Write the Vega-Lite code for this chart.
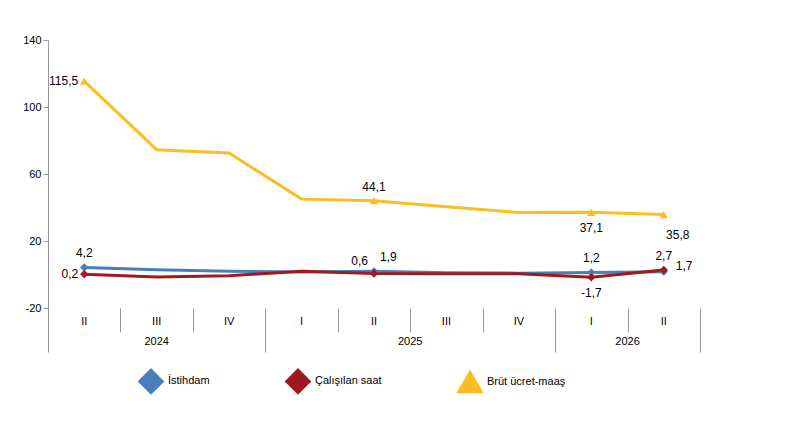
{
"$schema":"https://vega.github.io/schema/vega-lite/v6.json",
"width":652,"height":268,"autosize":"none",
"padding":{"left":48,"top":40,"right":91,"bottom":125},
"background":"white",
"config":{"font":"Liberation Sans","view":{"stroke":null},"axis":{"labelFont":"Liberation Sans","labelFontSize":11,"labelColor":"#000"}},
"datasets":{
"d":[
{"i":0,"series":"İstihdam","value":4.2,"label":"4,2"},
{"i":1,"series":"İstihdam","value":2.8},
{"i":2,"series":"İstihdam","value":2.0},
{"i":3,"series":"İstihdam","value":1.5},
{"i":4,"series":"İstihdam","value":1.9,"label":"1,9"},
{"i":5,"series":"İstihdam","value":1.0},
{"i":6,"series":"İstihdam","value":0.8},
{"i":7,"series":"İstihdam","value":1.2,"label":"1,2"},
{"i":8,"series":"İstihdam","value":1.7,"label":"1,7"},
{"i":0,"series":"Çalışılan saat","value":0.2,"label":"0,2"},
{"i":1,"series":"Çalışılan saat","value":-1.5},
{"i":2,"series":"Çalışılan saat","value":-0.8},
{"i":3,"series":"Çalışılan saat","value":2.0},
{"i":4,"series":"Çalışılan saat","value":0.6,"label":"0,6"},
{"i":5,"series":"Çalışılan saat","value":0.5},
{"i":6,"series":"Çalışılan saat","value":0.5},
{"i":7,"series":"Çalışılan saat","value":-1.7,"label":"-1,7"},
{"i":8,"series":"Çalışılan saat","value":2.7,"label":"2,7"},
{"i":0,"series":"Brüt ücret-maaş","value":115.5,"label":"115,5"},
{"i":1,"series":"Brüt ücret-maaş","value":74.5},
{"i":2,"series":"Brüt ücret-maaş","value":72.5},
{"i":3,"series":"Brüt ücret-maaş","value":45},
{"i":4,"series":"Brüt ücret-maaş","value":44.1,"label":"44,1"},
{"i":5,"series":"Brüt ücret-maaş","value":40.5},
{"i":6,"series":"Brüt ücret-maaş","value":37},
{"i":7,"series":"Brüt ücret-maaş","value":37.1,"label":"37,1"},
{"i":8,"series":"Brüt ücret-maaş","value":35.8,"label":"35,8"}
],
"q":[{"i":0,"q":"II"},{"i":1,"q":"III"},{"i":2,"q":"IV"},{"i":3,"q":"I"},{"i":4,"q":"II"},{"i":5,"q":"III"},{"i":6,"q":"IV"},{"i":7,"q":"I"},{"i":8,"q":"II"}],
"y":[{"i":1,"year":"2024"},{"i":4.5,"year":"2025"},{"i":7.5,"year":"2026"}]
},
"encoding":{
"x":{"field":"i","type":"quantitative","scale":{"domain":[-0.5,8.5],"nice":false,"zero":false},
"axis":{"values":[-0.5,0.5,1.5,2.5,3.5,4.5,5.5,6.5,7.5,8.5],"labels":false,"domain":false,"grid":false,"title":null,"tickColor":"#999",
"tickSize":{"condition":{"test":"indexof([-0.5,2.5,6.5,8.5], datum.value) >= 0","value":44},"value":24}}}
},
"layer":[
{"mark":{"type":"rule","color":"#999"},"encoding":{"x":{"datum":-0.5},"x2":{"datum":8.5},"y":{"datum":0}}},
{"data":{"name":"d"},"mark":{"type":"line","strokeWidth":3},
"encoding":{"y":{"field":"value","type":"quantitative","scale":{"domain":[-20,140],"nice":false},
"axis":{"values":[-20,0,20,40,60,80,100,120,140],"labelOverlap":false,"labelExpr":"replace(datum.label,'−','-')","grid":false,"title":null,"domainColor":"#999","tickColor":"#999","tickSize":5}},
"color":{"field":"series","type":"nominal","sort":["İstihdam","Çalışılan saat","Brüt ücret-maaş"],
"scale":{"domain":["İstihdam","Çalışılan saat","Brüt ücret-maaş"],"range":["#4a7ebb","#a0191e","#fbbd22"]},
"legend":{"orient":"none","legendX":90,"legendY":328,"direction":"horizontal","title":null,"symbolType":"stroke","symbolStrokeWidth":3,"symbolSize":500,"labelFontSize":11,"labelFont":"Liberation Sans","columnPadding":70}}}},
{"data":{"name":"d"},"transform":[{"filter":"datum.label"}],"mark":{"type":"point","filled":true,"opacity":1,"strokeWidth":0},
"encoding":{"y":{"field":"value","type":"quantitative"},
"shape":{"field":"series","type":"nominal","scale":{"domain":["İstihdam","Çalışılan saat","Brüt ücret-maaş"],"range":["diamond","diamond","triangle-up"]},"legend":null},
"size":{"value":70},
"fill":{"field":"series","type":"nominal","scale":{"domain":["İstihdam","Çalışılan saat","Brüt ücret-maaş"],"range":["#4a7ebb","#a0191e","#fbbd22"]},"legend":null}}},
{"data":{"name":"d"},"transform":[{"filter":"(datum.series=='Brüt ücret-maaş'&&datum.i==4)||(datum.series=='İstihdam'&&(datum.i==0||datum.i==7))||(datum.series=='Çalışılan saat'&&datum.i==8)"}],
"mark":{"type":"text","dy":-14,"fontSize":12},"encoding":{"y":{"field":"value","type":"quantitative"},"text":{"field":"label"}}},
{"data":{"name":"d"},"transform":[{"filter":"datum.i==0&&datum.series!='İstihdam'"}],
"mark":{"type":"text","dx":-6,"align":"right","fontSize":12},"encoding":{"y":{"field":"value","type":"quantitative"},"text":{"field":"label"}}},
{"data":{"name":"d"},"transform":[{"filter":"datum.i==7&&datum.series!='İstihdam'"}],
"mark":{"type":"text","dy":16,"fontSize":12},"encoding":{"y":{"field":"value","type":"quantitative"},"text":{"field":"label"}}},
{"data":{"name":"d"},"transform":[{"filter":"datum.i==8&&datum.series=='Brüt ücret-maaş'"}],
"mark":{"type":"text","dy":20,"dx":14,"fontSize":12},"encoding":{"y":{"field":"value","type":"quantitative"},"text":{"field":"label"}}},
{"data":{"name":"d"},"transform":[{"filter":"datum.i==8&&datum.series=='İstihdam'"}],
"mark":{"type":"text","dx":12,"align":"left","dy":-6,"fontSize":12},"encoding":{"y":{"field":"value","type":"quantitative"},"text":{"field":"label"}}},
{"data":{"name":"d"},"transform":[{"filter":"datum.i==4&&datum.series=='İstihdam'"}],
"mark":{"type":"text","dx":6,"align":"left","dy":-14,"fontSize":12},"encoding":{"y":{"field":"value","type":"quantitative"},"text":{"field":"label"}}},
{"data":{"name":"d"},"transform":[{"filter":"datum.i==4&&datum.series=='Çalışılan saat'"}],
"mark":{"type":"text","dx":-6,"align":"right","dy":-12,"fontSize":12},"encoding":{"y":{"field":"value","type":"quantitative"},"text":{"field":"label"}}},
{"data":{"name":"q"},"mark":{"type":"text","dy":14,"fontSize":11},"encoding":{"y":{"datum":-20},"text":{"field":"q"}}},
{"data":{"name":"y"},"mark":{"type":"text","dy":34,"fontSize":11},"encoding":{"y":{"datum":-20},"text":{"field":"year"}}}
]
}
